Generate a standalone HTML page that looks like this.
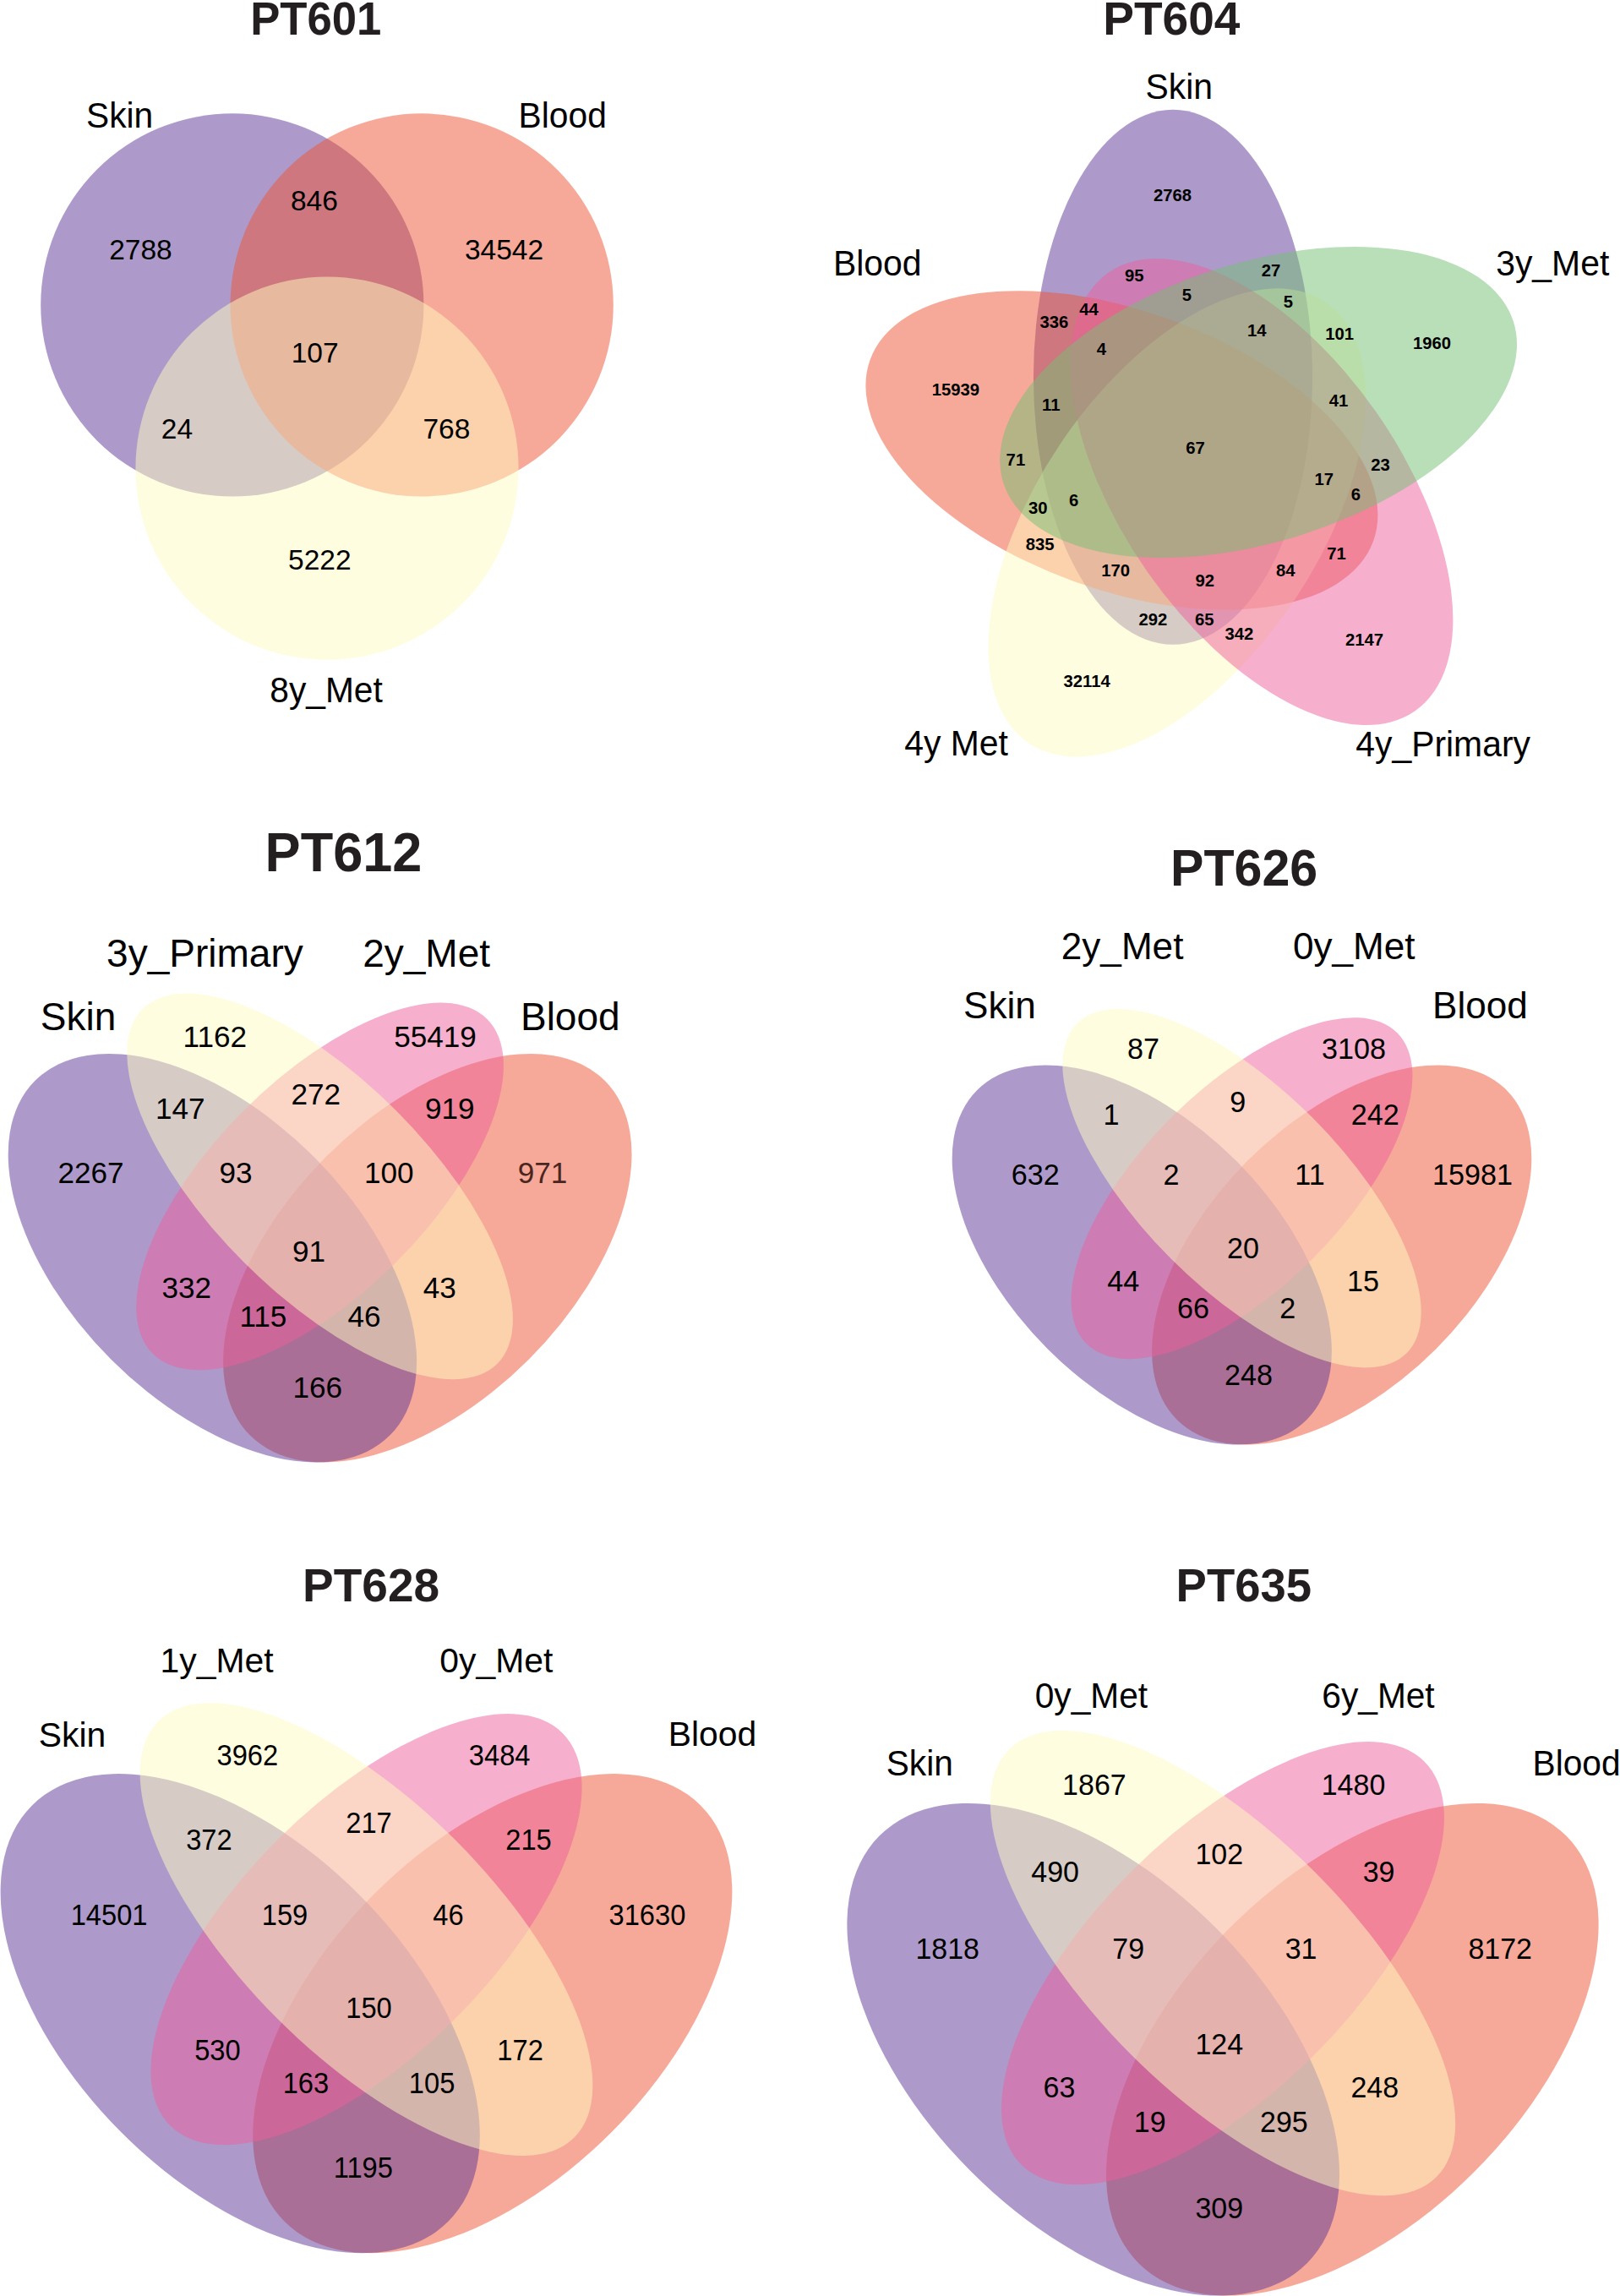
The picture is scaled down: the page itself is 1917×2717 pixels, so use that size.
<!DOCTYPE html>
<html lang="en">
<head>
<meta charset="utf-8">
<title>Venn diagrams</title>
<style>
html,body{margin:0;padding:0;background:#ffffff;}
body{width:1917px;height:2717px;overflow:hidden;}
svg{display:block;}
svg text{font-family:"Liberation Sans",Arial,Helvetica,sans-serif;text-anchor:middle;}
</style>
</head>
<body>
<svg width="1917" height="2717" viewBox="0 0 1917 2717">
<rect x="0" y="0" width="1917" height="2717" fill="#ffffff"/>
<g>
<circle cx="274.8" cy="360.9" r="226.6" fill="#5b3596" fill-opacity="0.5"/>
<circle cx="499.2" cy="360.9" r="226.6" fill="#ef5333" fill-opacity="0.5"/>
<circle cx="387" cy="554.1" r="226.6" fill="#fffbc0" fill-opacity="0.5"/>
<text font-size="33.5" x="371.9" y="249">846</text>
<text font-size="33.5" x="166.4" y="306.8">2788</text>
<text font-size="33.5" x="596.5" y="306.8">34542</text>
<text font-size="33.5" x="372.6" y="429.3">107</text>
<text font-size="33.5" x="209.4" y="519.2">24</text>
<text font-size="33.5" x="528.4" y="519.2">768</text>
<text font-size="33.5" x="378.3" y="673.7">5222</text>
<text font-size="42" transform="translate(141.6 151.3) scale(0.97 1)">Skin</text>
<text font-size="42" transform="translate(665.7 151.2) scale(0.97 1)">Blood</text>
<text font-size="42" transform="translate(386 830.7) scale(0.97 1)">8y_Met</text>
<text font-size="56" font-weight="bold" fill="#231f20" transform="translate(373.8 40.7) scale(0.941 1)">PT601</text>
</g>
<g>
<ellipse cx="1388" cy="446.3" rx="165.1" ry="316.5" transform="rotate(0 1388 446.3)" fill="#5b3596" fill-opacity="0.5"/>
<ellipse cx="1327.4" cy="532.9" rx="165.1" ry="316.5" transform="rotate(109.8 1327.4 532.9)" fill="#ef5333" fill-opacity="0.5"/>
<ellipse cx="1392.8" cy="618.4" rx="166.6" ry="314.5" transform="rotate(-146.1 1392.8 618.4)" fill="#fffbc0" fill-opacity="0.5"/>
<ellipse cx="1493" cy="582" rx="165.1" ry="316.5" transform="rotate(-35 1493 582)" fill="#ee5f9c" fill-opacity="0.5"/>
<ellipse cx="1489.1" cy="476" rx="165.1" ry="316.5" transform="rotate(72.5 1489.1 476)" fill="#73bf73" fill-opacity="0.5"/>
<text font-size="20.8" font-weight="bold" transform="translate(1387.6 238.2) scale(0.975 1)">2768</text>
<text font-size="20.8" font-weight="bold" transform="translate(1342.2 332.6) scale(0.975 1)">95</text>
<text font-size="20.8" font-weight="bold" transform="translate(1504 326.6) scale(0.975 1)">27</text>
<text font-size="20.8" font-weight="bold" transform="translate(1404.3 355.9) scale(0.975 1)">5</text>
<text font-size="20.8" font-weight="bold" transform="translate(1524.3 364.2) scale(0.975 1)">5</text>
<text font-size="20.8" font-weight="bold" transform="translate(1288.5 372.6) scale(0.975 1)">44</text>
<text font-size="20.8" font-weight="bold" transform="translate(1247.3 387.5) scale(0.975 1)">336</text>
<text font-size="20.8" font-weight="bold" transform="translate(1487.3 398.2) scale(0.975 1)">14</text>
<text font-size="20.8" font-weight="bold" transform="translate(1585.2 402.4) scale(0.975 1)">101</text>
<text font-size="20.8" font-weight="bold" transform="translate(1694.5 413.2) scale(0.975 1)">1960</text>
<text font-size="20.8" font-weight="bold" transform="translate(1303.4 420.3) scale(0.975 1)">4</text>
<text font-size="20.8" font-weight="bold" transform="translate(1130.9 467.5) scale(0.975 1)">15939</text>
<text font-size="20.8" font-weight="bold" transform="translate(1243.7 486) scale(0.975 1)">11</text>
<text font-size="20.8" font-weight="bold" transform="translate(1584 480.6) scale(0.975 1)">41</text>
<text font-size="20.8" font-weight="bold" transform="translate(1414.5 536.8) scale(0.975 1)">67</text>
<text font-size="20.8" font-weight="bold" transform="translate(1201.9 550.5) scale(0.975 1)">71</text>
<text font-size="20.8" font-weight="bold" transform="translate(1633.6 556.5) scale(0.975 1)">23</text>
<text font-size="20.8" font-weight="bold" transform="translate(1566.7 574.4) scale(0.975 1)">17</text>
<text font-size="20.8" font-weight="bold" transform="translate(1604.3 591.7) scale(0.975 1)">6</text>
<text font-size="20.8" font-weight="bold" transform="translate(1270.6 598.8) scale(0.975 1)">6</text>
<text font-size="20.8" font-weight="bold" transform="translate(1228.2 608.4) scale(0.975 1)">30</text>
<text font-size="20.8" font-weight="bold" transform="translate(1230.6 651.4) scale(0.975 1)">835</text>
<text font-size="20.8" font-weight="bold" transform="translate(1581.6 661.5) scale(0.975 1)">71</text>
<text font-size="20.8" font-weight="bold" transform="translate(1320.1 681.8) scale(0.975 1)">170</text>
<text font-size="20.8" font-weight="bold" transform="translate(1521.3 681.8) scale(0.975 1)">84</text>
<text font-size="20.8" font-weight="bold" transform="translate(1425.8 693.8) scale(0.975 1)">92</text>
<text font-size="20.8" font-weight="bold" transform="translate(1364.3 739.7) scale(0.975 1)">292</text>
<text font-size="20.8" font-weight="bold" transform="translate(1425.2 739.7) scale(0.975 1)">65</text>
<text font-size="20.8" font-weight="bold" transform="translate(1466.4 756.5) scale(0.975 1)">342</text>
<text font-size="20.8" font-weight="bold" transform="translate(1614.5 764.2) scale(0.975 1)">2147</text>
<text font-size="20.8" font-weight="bold" transform="translate(1286.1 813.2) scale(0.975 1)">32114</text>
<text font-size="42.3" transform="translate(1395.3 116.8) scale(0.967 1)">Skin</text>
<text font-size="42.3" transform="translate(1038.2 326) scale(0.967 1)">Blood</text>
<text font-size="42.3" transform="translate(1837.2 325.6) scale(0.967 1)">3y_Met</text>
<text font-size="42.3" transform="translate(1131.6 894.3) scale(0.967 1)">4y Met</text>
<text font-size="42.3" transform="translate(1707.6 895.4) scale(0.967 1)">4y_Primary</text>
<text font-size="56.3" font-weight="bold" fill="#231f20" transform="translate(1386.3 40.6) scale(0.978 1)">PT604</text>
</g>
<g>
<ellipse cx="505.8" cy="1488.7" rx="296.8" ry="169.6" transform="rotate(-45 505.8 1488.7)" fill="#ef5333" fill-opacity="0.5"/>
<ellipse cx="251.4" cy="1488.7" rx="296.8" ry="169.6" transform="rotate(-135 251.4 1488.7)" fill="#5b3596" fill-opacity="0.5"/>
<ellipse cx="378.6" cy="1403.9" rx="279.8" ry="127.2" transform="rotate(-45 378.6 1403.9)" fill="#ee5f9c" fill-opacity="0.5"/>
<ellipse cx="378.6" cy="1403.9" rx="296.8" ry="127.2" transform="rotate(-135 378.6 1403.9)" fill="#fffbc0" fill-opacity="0.5"/>
<text font-size="35.5" transform="translate(254.3 1238.9) scale(0.99 1)">1162</text>
<text font-size="35.5" transform="translate(373.8 1306.7) scale(0.99 1)">272</text>
<text font-size="35.5" transform="translate(515 1238.9) scale(0.99 1)">55419</text>
<text font-size="35.5" transform="translate(213.3 1323.7) scale(0.99 1)">147</text>
<text font-size="35.5" transform="translate(279 1400) scale(0.99 1)">93</text>
<text font-size="35.5" transform="translate(365.5 1493.3) scale(0.99 1)">91</text>
<text font-size="35.5" transform="translate(460.2 1400) scale(0.99 1)">100</text>
<text font-size="35.5" transform="translate(532.3 1323.7) scale(0.99 1)">919</text>
<text font-size="35.5" transform="translate(107.5 1400) scale(0.99 1)">2267</text>
<text font-size="35.5" transform="translate(220.8 1535.7) scale(0.99 1)">332</text>
<text font-size="35.5" transform="translate(311.4 1569.6) scale(0.99 1)">115</text>
<text font-size="35.5" transform="translate(431 1569.6) scale(0.99 1)">46</text>
<text font-size="35.5" transform="translate(520.2 1535.7) scale(0.99 1)">43</text>
<text font-size="35.5" fill="#4a2620" transform="translate(642 1400) scale(0.99 1)">971</text>
<text font-size="35.5" transform="translate(375.8 1654.4) scale(0.99 1)">166</text>
<text font-size="46" x="242.4" y="1143.9">3y_Primary</text>
<text font-size="46" x="504.6" y="1143.9">2y_Met</text>
<text font-size="46" x="92.5" y="1219.4">Skin</text>
<text font-size="46" x="674.8" y="1218.8">Blood</text>
<text font-size="65.3" font-weight="bold" fill="#231f20" transform="translate(406.5 1031.4) scale(0.966 1)">PT612</text>
</g>
<g>
<ellipse cx="1587.7" cy="1485" rx="275.8" ry="157.6" transform="rotate(-45 1587.7 1485)" fill="#ef5333" fill-opacity="0.5"/>
<ellipse cx="1351.3" cy="1485" rx="275.8" ry="157.6" transform="rotate(-135 1351.3 1485)" fill="#5b3596" fill-opacity="0.5"/>
<ellipse cx="1469.5" cy="1406.2" rx="260" ry="118.2" transform="rotate(-45 1469.5 1406.2)" fill="#ee5f9c" fill-opacity="0.5"/>
<ellipse cx="1469.5" cy="1406.2" rx="275.8" ry="118.2" transform="rotate(-135 1469.5 1406.2)" fill="#fffbc0" fill-opacity="0.5"/>
<text font-size="34.5" transform="translate(1352.9 1252.6) scale(0.99 1)">87</text>
<text font-size="34.5" transform="translate(1464.7 1315.7) scale(0.99 1)">9</text>
<text font-size="34.5" transform="translate(1602.1 1252.6) scale(0.99 1)">3108</text>
<text font-size="34.5" transform="translate(1315 1331.4) scale(0.99 1)">1</text>
<text font-size="34.5" transform="translate(1385.9 1402.3) scale(0.99 1)">2</text>
<text font-size="34.5" transform="translate(1471.1 1489) scale(0.99 1)">20</text>
<text font-size="34.5" transform="translate(1549.9 1402.3) scale(0.99 1)">11</text>
<text font-size="34.5" transform="translate(1627.2 1331.4) scale(0.99 1)">242</text>
<text font-size="34.5" transform="translate(1225.3 1402.3) scale(0.99 1)">632</text>
<text font-size="34.5" transform="translate(1329.3 1528.4) scale(0.99 1)">44</text>
<text font-size="34.5" transform="translate(1412 1559.9) scale(0.99 1)">66</text>
<text font-size="34.5" transform="translate(1523.8 1559.9) scale(0.99 1)">2</text>
<text font-size="34.5" transform="translate(1612.9 1528.4) scale(0.99 1)">15</text>
<text font-size="34.5" transform="translate(1742.5 1402.3) scale(0.99 1)">15981</text>
<text font-size="34.5" transform="translate(1477.5 1638.7) scale(0.99 1)">248</text>
<text font-size="45" transform="translate(1328.1 1134.8) scale(0.98 1)">2y_Met</text>
<text font-size="45" transform="translate(1602.3 1134.8) scale(0.98 1)">0y_Met</text>
<text font-size="45" transform="translate(1183 1205.1) scale(0.98 1)">Skin</text>
<text font-size="45" transform="translate(1751.4 1204.9) scale(0.98 1)">Blood</text>
<text font-size="60.6" font-weight="bold" fill="#231f20" transform="translate(1472.1 1048.2) scale(0.976 1)">PT626</text>
</g>
<g>
<ellipse cx="582.8" cy="2382.6" rx="348.2" ry="199" transform="rotate(-45 582.8 2382.6)" fill="#ef5333" fill-opacity="0.5"/>
<ellipse cx="284.2" cy="2382.6" rx="348.2" ry="199" transform="rotate(-135 284.2 2382.6)" fill="#5b3596" fill-opacity="0.5"/>
<ellipse cx="433.5" cy="2283.1" rx="328.4" ry="149.2" transform="rotate(-45 433.5 2283.1)" fill="#ee5f9c" fill-opacity="0.5"/>
<ellipse cx="433.5" cy="2283.1" rx="348.2" ry="149.2" transform="rotate(-135 433.5 2283.1)" fill="#fffbc0" fill-opacity="0.5"/>
<text font-size="34.4" transform="translate(292.8 2089.4) scale(0.95 1)">3962</text>
<text font-size="34.4" transform="translate(436.5 2169) scale(0.95 1)">217</text>
<text font-size="34.4" transform="translate(591.2 2089.4) scale(0.95 1)">3484</text>
<text font-size="34.4" transform="translate(247.4 2188.9) scale(0.95 1)">372</text>
<text font-size="34.4" transform="translate(337 2278.4) scale(0.95 1)">159</text>
<text font-size="34.4" transform="translate(436.5 2387.9) scale(0.95 1)">150</text>
<text font-size="34.4" transform="translate(530.5 2278.4) scale(0.95 1)">46</text>
<text font-size="34.4" transform="translate(625.5 2188.9) scale(0.95 1)">215</text>
<text font-size="34.4" transform="translate(129.1 2278.4) scale(0.95 1)">14501</text>
<text font-size="34.4" transform="translate(257.4 2437.6) scale(0.95 1)">530</text>
<text font-size="34.4" transform="translate(361.9 2477.4) scale(0.95 1)">163</text>
<text font-size="34.4" transform="translate(511.1 2477.4) scale(0.95 1)">105</text>
<text font-size="34.4" transform="translate(615.6 2437.6) scale(0.95 1)">172</text>
<text font-size="34.4" transform="translate(765.9 2278.4) scale(0.95 1)">31630</text>
<text font-size="34.4" transform="translate(429.8 2576.9) scale(0.95 1)">1195</text>
<text font-size="41.5" transform="translate(256.5 1979.3) scale(0.985 1)">1y_Met</text>
<text font-size="41.5" transform="translate(587.3 1979.3) scale(0.985 1)">0y_Met</text>
<text font-size="41.5" transform="translate(85.5 2066.5) scale(0.985 1)">Skin</text>
<text font-size="41.5" transform="translate(843 2066.2) scale(0.985 1)">Blood</text>
<text font-size="56" font-weight="bold" fill="#231f20" transform="translate(439.1 1894.5) scale(0.982 1)">PT628</text>
</g>
<g>
<ellipse cx="1600.3" cy="2425.3" rx="357.7" ry="204.4" transform="rotate(-45 1600.3 2425.3)" fill="#ef5333" fill-opacity="0.5"/>
<ellipse cx="1293.7" cy="2425.3" rx="357.7" ry="204.4" transform="rotate(-135 1293.7 2425.3)" fill="#5b3596" fill-opacity="0.5"/>
<ellipse cx="1447" cy="2323.1" rx="337.3" ry="153.3" transform="rotate(-45 1447 2323.1)" fill="#ee5f9c" fill-opacity="0.5"/>
<ellipse cx="1447" cy="2323.1" rx="357.7" ry="153.3" transform="rotate(-135 1447 2323.1)" fill="#fffbc0" fill-opacity="0.5"/>
<text font-size="35.2" transform="translate(1294.9 2124.3) scale(0.965 1)">1867</text>
<text font-size="35.2" transform="translate(1442.8 2206) scale(0.965 1)">102</text>
<text font-size="35.2" transform="translate(1601.5 2124.3) scale(0.965 1)">1480</text>
<text font-size="35.2" transform="translate(1248.6 2226.5) scale(0.965 1)">490</text>
<text font-size="35.2" transform="translate(1335.2 2318.4) scale(0.965 1)">79</text>
<text font-size="35.2" transform="translate(1442.8 2430.9) scale(0.965 1)">124</text>
<text font-size="35.2" transform="translate(1539.6 2318.4) scale(0.965 1)">31</text>
<text font-size="35.2" transform="translate(1631.6 2226.5) scale(0.965 1)">39</text>
<text font-size="35.2" transform="translate(1121.2 2318.4) scale(0.965 1)">1818</text>
<text font-size="35.2" transform="translate(1253.4 2482) scale(0.965 1)">63</text>
<text font-size="35.2" transform="translate(1360.7 2522.8) scale(0.965 1)">19</text>
<text font-size="35.2" transform="translate(1519.4 2522.8) scale(0.965 1)">295</text>
<text font-size="35.2" transform="translate(1626.8 2482) scale(0.965 1)">248</text>
<text font-size="35.2" transform="translate(1775.2 2318.4) scale(0.965 1)">8172</text>
<text font-size="35.2" transform="translate(1442.8 2625) scale(0.965 1)">309</text>
<text font-size="41.8" transform="translate(1291.4 2021) scale(0.973 1)">0y_Met</text>
<text font-size="41.8" transform="translate(1631 2021) scale(0.973 1)">6y_Met</text>
<text font-size="41.8" transform="translate(1088.3 2101) scale(0.973 1)">Skin</text>
<text font-size="41.8" transform="translate(1865.5 2100.5) scale(0.973 1)">Blood</text>
<text font-size="56" font-weight="bold" fill="#231f20" transform="translate(1471.8 1894.5) scale(0.973 1)">PT635</text>
</g>
</svg>
</body>
</html>
